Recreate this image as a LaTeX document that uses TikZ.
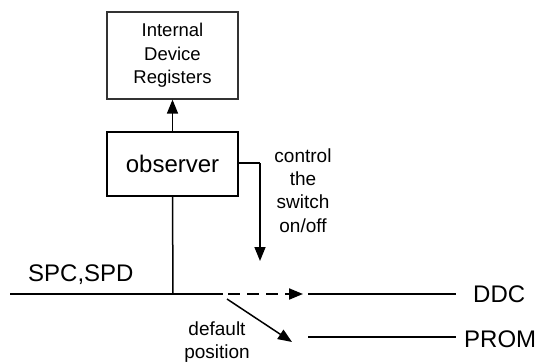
\documentclass[tikz,border=0pt]{standalone}
\usepackage{fontspec}
\setmainfont{Liberation Sans}
\usetikzlibrary{arrows.meta}
\begin{document}
\begin{tikzpicture}[x=1pt,y=-1pt,
  ln/.style={line width=1.5pt,black},
  arr/.style={ln,-{Triangle[length=14pt,width=11pt]}},
  box/.style={draw,line width=1.5pt,rectangle,inner sep=0pt},
  big/.style={font=\fontsize{24}{28}\selectfont,inner sep=0pt},
  small/.style={font=\fontsize{19}{23.4}\selectfont,align=center,inner sep=0pt}]
\useasboundingbox (0,0) rectangle (535,362);
\fill[white] (0,0) rectangle (535,362);
% boxes
\node[box,draw=black!80,line width=1.2pt,minimum width=131pt,minimum height=87pt,
  font=\fontsize{18.5}{23.5}\selectfont,align=center] (reg) at (172.5,55.5)
  {Internal\\Device\\Registers};
\node[box,minimum width=131pt,minimum height=64pt,font=\fontsize{24}{28}\selectfont] (obs) at (172.5,164) {observer};
% texts
\node[small] (ctrl) at (303,190.5) {control\\the\\switch\\on/off};
\node[big,anchor=west] (spc) at (28,275) {SPC,SPD};
\node[big,anchor=west] (ddc) at (473,294) {DDC};
\node[big,anchor=west] (prom) at (464,339) {PROM};
\node[small] (dflt) at (217,342) {default\\position};
% coordinates
\coordinate (mL) at (10,294);
\coordinate (mJ) at (173,294);
\coordinate (mR) at (223,294);
\coordinate (dS) at (228,294);
\coordinate (dE) at (303,294);
\coordinate (gS) at (227,299);
\coordinate (gE) at (292,342);
\coordinate (ddcA) at (308,294);
\coordinate (ddcB) at (456,294);
\coordinate (prA) at (308,337);
\coordinate (prB) at (456,337);
\coordinate (cA) at (260,163);
\coordinate (cB) at (260,261);
% connectors
\draw[arr] (obs.north) -- (reg.south);
\draw[ln] (obs.south) -- (mJ);
\draw[ln] (mL) -- (mR);
\draw[arr,line width=2pt,dash pattern=on 12pt off 7pt] (dS) -- (dE);
\draw[arr] (gS) -- (gE);
\draw[ln] (ddcA) -- (ddcB);
\draw[ln] (prA) -- (prB);
\draw[ln] (obs.east |- cA) -- (cA);
\draw[arr] (cA) -- (cB);
\end{tikzpicture}
\end{document}
